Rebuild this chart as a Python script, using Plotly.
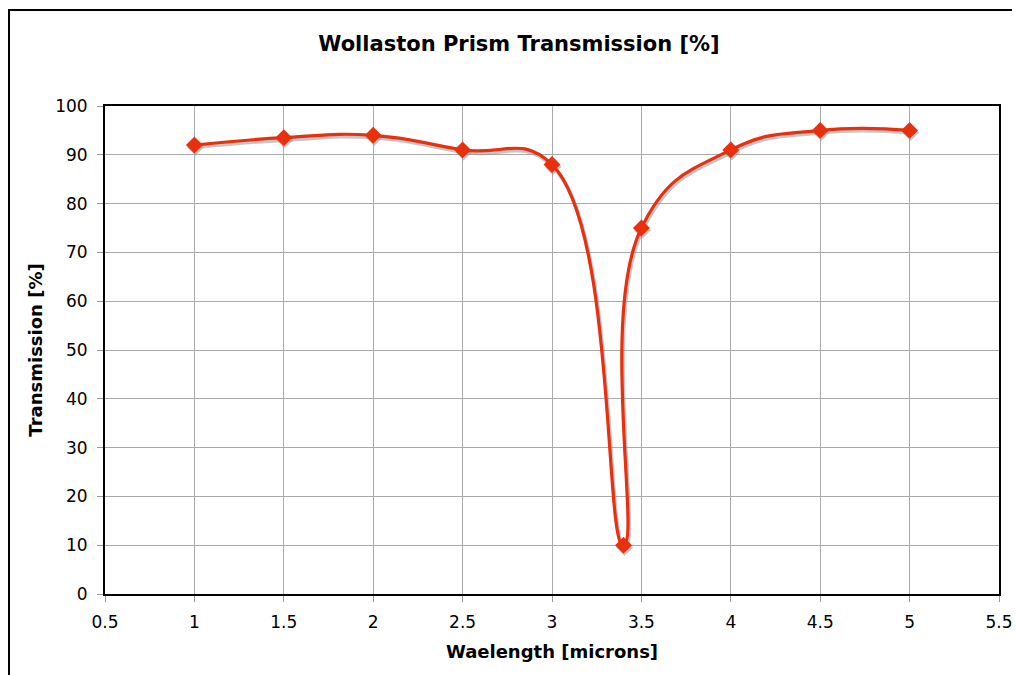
import plotly.graph_objects as go

wavelength = [1, 1.5, 2, 2.5, 3, 3.4, 3.5, 4, 4.5, 5]
transmission = [92, 93.5, 94, 91, 88, 10, 75, 91, 95, 95]
x_ticks = [0.5, 1, 1.5, 2, 2.5, 3, 3.5, 4, 4.5, 5, 5.5]
y_ticks = [0, 10, 20, 30, 40, 50, 60, 70, 80, 90, 100]

RED = "#e8300e"
FONT = "DejaVu Sans"

L, T, W, H = 97, 98, 894, 488

fig = go.Figure()
# soft shadow under the line
fig.add_trace(go.Scatter(
    x=[v + 0.006 for v in wavelength], y=[v - 0.45 for v in transmission],
    mode="lines+markers", line=dict(shape="spline", smoothing=1.3, color="rgba(150,150,150,0.55)", width=4),
    marker=dict(symbol="diamond", size=13, color="rgba(150,150,150,0.55)"),
    hoverinfo="skip", showlegend=False))
fig.add_trace(go.Scatter(
    x=wavelength, y=transmission, mode="lines+markers",
    line=dict(shape="spline", smoothing=1.3, color=RED, width=3.2),
    marker=dict(symbol="diamond", size=13, color=RED),
    showlegend=False))

fig.update_layout(
    width=1020, height=675,
    margin=dict(l=L, r=1020 - L - W, t=T, b=675 - T - H),
    paper_bgcolor="white", plot_bgcolor="white",
    font=dict(family=FONT, size=17, color="black"),
    title=dict(text="<b>Wollaston Prism Transmission [%]</b>", x=511/1020, xanchor="center",
               y=1 - 36/675, yanchor="middle", font=dict(family=FONT, size=21)),
    xaxis=dict(range=[0.5, 5.5], tickvals=x_ticks, ticktext=[f"{t:g}" for t in x_ticks],
               showgrid=True, gridcolor="#aaaaaa", gridwidth=1,
               showline=True, linecolor="black", linewidth=2, mirror=True,
               ticks="outside", ticklen=6, tickcolor="#999999", zeroline=False,
               ticklabelstandoff=6,
               title=dict(text="<b>Waelength [microns]</b>", font=dict(family=FONT, size=18), standoff=14),
               tickfont=dict(family=FONT, size=17)),
    yaxis=dict(range=[0, 100], tickvals=y_ticks,
               showgrid=True, gridcolor="#aaaaaa", gridwidth=1,
               showline=True, linecolor="black", linewidth=2, mirror=True,
               ticks="outside", ticklen=6, tickcolor="#999999", zeroline=False,
               ticklabelstandoff=6,
               title=dict(text="<b>Transmission [%]</b>", font=dict(family=FONT, size=18), standoff=8),
               tickfont=dict(family=FONT, size=17)),
    shapes=[dict(type="rect", xref="paper", yref="paper",
                 x0=(1 - L) / W, x1=1.2, y0=-0.3, y1=1 + (T - 2) / H,
                 line=dict(color="black", width=2), fillcolor="rgba(0,0,0,0)", layer="below")],
)

fig.write_html("out.html")
